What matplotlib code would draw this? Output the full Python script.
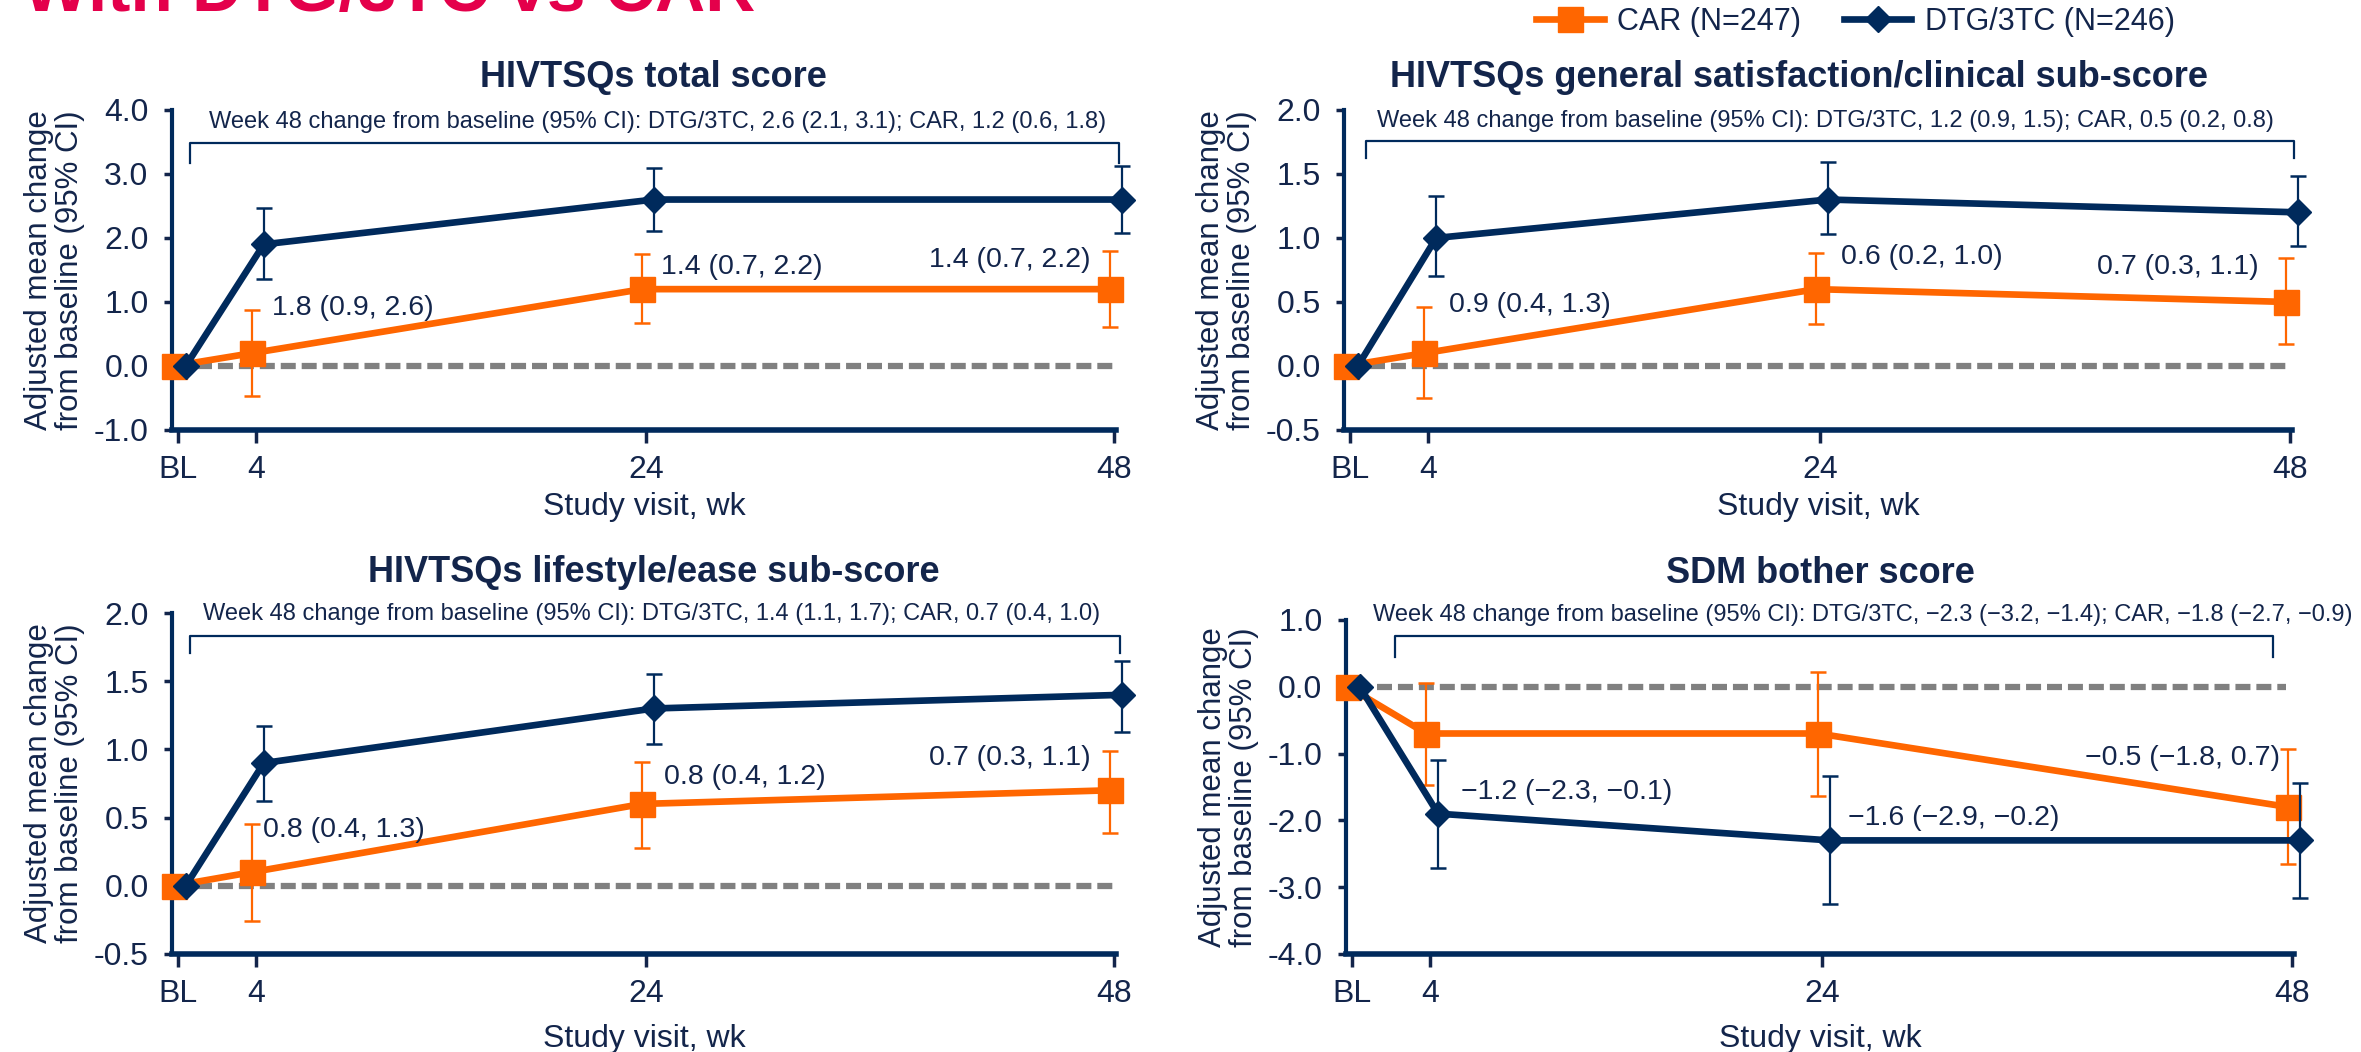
"""Four-panel PRO change-from-baseline figure: DTG/3TC vs CAR."""
import matplotlib
matplotlib.use("Agg")
import matplotlib.pyplot as plt
from matplotlib.lines import Line2D

plt.rcParams["font.family"] = ["Liberation Sans", "DejaVu Sans"]

NAVY = "#002a5c"
TEXT = "#13254b"
ORANGE = "#ff6600"
GREY = "#808080"
RED = "#e4004b"

WEEKS = [0, 4, 24, 48]
WEEK_LABELS = ["BL", "4", "24", "48"]

# HIVTSQs total score
TOT_DTG = [0.0, 1.9, 2.6, 2.6]
TOT_DTG_LO = [0.0, 1.36, 2.11, 2.08]
TOT_DTG_HI = [0.0, 2.47, 3.09, 3.12]
TOT_CAR = [0.0, 0.2, 1.2, 1.2]
TOT_CAR_LO = [0.0, -0.47, 0.67, 0.61]
TOT_CAR_HI = [0.0, 0.87, 1.75, 1.80]
TOT_DIFF = ["1.8 (0.9, 2.6)", "1.4 (0.7, 2.2)", "1.4 (0.7, 2.2)"]
TOT_W48 = ("Week 48 change from baseline (95% CI): DTG/3TC, 2.6 (2.1, 3.1); "
           "CAR, 1.2 (0.6, 1.8)")

# HIVTSQs general satisfaction/clinical sub-score
GEN_DTG = [0.0, 1.0, 1.3, 1.2]
GEN_DTG_LO = [0.0, 0.70, 1.03, 0.94]
GEN_DTG_HI = [0.0, 1.33, 1.59, 1.48]
GEN_CAR = [0.0, 0.1, 0.6, 0.5]
GEN_CAR_LO = [0.0, -0.25, 0.33, 0.17]
GEN_CAR_HI = [0.0, 0.46, 0.88, 0.84]
GEN_DIFF = ["0.9 (0.4, 1.3)", "0.6 (0.2, 1.0)", "0.7 (0.3, 1.1)"]
GEN_W48 = ("Week 48 change from baseline (95% CI): DTG/3TC, 1.2 (0.9, 1.5); "
           "CAR, 0.5 (0.2, 0.8)")

# HIVTSQs lifestyle/ease sub-score
LIF_DTG = [0.0, 0.9, 1.3, 1.4]
LIF_DTG_LO = [0.0, 0.62, 1.04, 1.13]
LIF_DTG_HI = [0.0, 1.17, 1.55, 1.65]
LIF_CAR = [0.0, 0.1, 0.6, 0.7]
LIF_CAR_LO = [0.0, -0.26, 0.28, 0.39]
LIF_CAR_HI = [0.0, 0.45, 0.91, 0.99]
LIF_DIFF = ["0.8 (0.4, 1.3)", "0.8 (0.4, 1.2)", "0.7 (0.3, 1.1)"]
LIF_W48 = ("Week 48 change from baseline (95% CI): DTG/3TC, 1.4 (1.1, 1.7); "
           "CAR, 0.7 (0.4, 1.0)")

# SDM bother score
SDM_DTG = [0.0, -1.9, -2.3, -2.3]
SDM_DTG_LO = [0.0, -2.71, -3.25, -3.16]
SDM_DTG_HI = [0.0, -1.10, -1.34, -1.44]
SDM_CAR = [0.0, -0.7, -0.7, -1.8]
SDM_CAR_LO = [0.0, -1.47, -1.63, -2.65]
SDM_CAR_HI = [0.0, 0.06, 0.22, -0.93]
SDM_DIFF = ["\u22121.2 (\u22122.3, \u22120.1)", "\u22121.6 (\u22122.9, \u22120.2)",
            "\u22120.5 (\u22121.8, 0.7)"]
SDM_W48 = ("Week 48 change from baseline (95% CI): DTG/3TC, \u22122.3 (\u22123.2, \u22121.4); "
           "CAR, \u22121.8 (\u22122.7, \u22120.9)")

PANELS = [
    dict(title="HIVTSQs total score", rect=[0.0729, 0.5913, 0.3998, 0.3042],
         ylim=(-1.0, 4.0), yticks=[-1.0, 0.0, 1.0, 2.0, 3.0, 4.0],
         dtg=(TOT_DTG, TOT_DTG_LO, TOT_DTG_HI), car=(TOT_CAR, TOT_CAR_LO, TOT_CAR_HI),
         diff=TOT_DIFF, w48=TOT_W48, title_xy=(0.51, 1.10), xpad=5,
         diff_xy=[(4.83, 0.9, "left"), (24.78, 1.55, "left"), (46.78, 1.66, "right")],
         bracket=(0.62, 48.26, 3.17, 3.48), w48_xy=(24.6, 3.81), zero=(1.0, 48.0)),
    dict(title="HIVTSQs general satisfaction/clinical sub-score",
         rect=[0.5693, 0.5913, 0.4015, 0.3042],
         ylim=(-0.5, 2.0), yticks=[-0.5, 0.0, 0.5, 1.0, 1.5, 2.0],
         dtg=(GEN_DTG, GEN_DTG_LO, GEN_DTG_HI), car=(GEN_CAR, GEN_CAR_LO, GEN_CAR_HI),
         diff=GEN_DIFF, w48=GEN_W48, title_xy=(0.48, 1.10), xpad=5,
         diff_xy=[(5.06, 0.48, "left"), (25.07, 0.85, "left"), (46.4, 0.77, "right")],
         bracket=(0.82, 48.2, 1.625, 1.76), w48_xy=(24.3, 1.91), zero=(1.0, 48.0)),
    dict(title="HIVTSQs lifestyle/ease sub-score", rect=[0.0729, 0.0932, 0.3998, 0.3241],
         ylim=(-0.5, 2.0), yticks=[-0.5, 0.0, 0.5, 1.0, 1.5, 2.0],
         dtg=(LIF_DTG, LIF_DTG_LO, LIF_DTG_HI), car=(LIF_CAR, LIF_CAR_LO, LIF_CAR_HI),
         diff=LIF_DIFF, w48=LIF_W48, title_xy=(0.51, 1.12), xpad=11,
         diff_xy=[(4.37, 0.41, "left"), (24.93, 0.80, "left"), (46.78, 0.94, "right")],
         bracket=(0.62, 48.3, 1.71, 1.83), w48_xy=(24.3, 1.99), zero=(1.0, 48.0)),
    dict(title="SDM bother score", rect=[0.5701, 0.0932, 0.4015, 0.3175],
         ylim=(-4.0, 1.0), yticks=[-4.0, -3.0, -2.0, -1.0, 0.0, 1.0],
         dtg=(SDM_DTG, SDM_DTG_LO, SDM_DTG_HI), car=(SDM_CAR, SDM_CAR_LO, SDM_CAR_HI),
         diff=SDM_DIFF, w48=SDM_W48, title_xy=(0.50, 1.14), xpad=11,
         diff_xy=[(5.57, -1.57, "left"), (25.35, -1.96, "left"), (47.4, -1.07, "right")],
         bracket=(2.18, 47.05, 0.45, 0.76), w48_xy=(26.1, 1.07), zero=(1.3, 47.7)),
]

CAR_SHIFT = -0.2   # series are dodged around each visit
DTG_SHIFT = 0.4


def draw_series(ax, vals, shift, color, marker, ms, z):
    mean, lo, hi = vals
    x = [w + shift for w in WEEKS]
    err = [[m - l for m, l in zip(mean[1:], lo[1:])],
           [h - m for m, h in zip(mean[1:], hi[1:])]]
    ax.errorbar(x[1:], mean[1:], yerr=err, fmt="none", ecolor=color, elinewidth=1.6,
                capsize=5.5, capthick=1.8, zorder=z, clip_on=False)
    ax.plot(x, mean, "-", marker=marker, color=color, lw=4.8, ms=ms,
            zorder=z + 1, clip_on=False)


fig = plt.figure(figsize=(23.61, 10.52), dpi=100)

for p in PANELS:
    ax = fig.add_axes(p["rect"])
    ax.set_xlim(-0.3, 48.1)
    ax.set_ylim(*p["ylim"])
    ax.set_yticks(p["yticks"])
    ax.set_yticklabels([f"{v:.1f}" for v in p["yticks"]])
    ax.set_xticks(WEEKS)
    ax.set_xticklabels(WEEK_LABELS)
    for s in ("top", "right"):
        ax.spines[s].set_visible(False)
    ax.spines["left"].set_linewidth(3)
    ax.spines["bottom"].set_linewidth(4)
    for s in ("left", "bottom"):
        ax.spines[s].set_color(NAVY)
    ax.tick_params(axis="y", colors=TEXT, labelsize=23, length=6, width=2.5, pad=11)
    ax.tick_params(axis="x", colors=TEXT, labelsize=23, length=9, width=2.5, pad=9)

    ax.hlines(0, p["zero"][0], p["zero"][1], colors=GREY, lw=4.5,
              linestyles=(0, (2.4, 0.95)), zorder=1)
    draw_series(ax, p["car"], CAR_SHIFT, ORANGE, "s", 18, 2)
    draw_series(ax, p["dtg"], DTG_SHIFT, NAVY, "D", 13, 4)

    for txt, (tx, ty, ha) in zip(p["diff"], p["diff_xy"]):
        ax.text(tx, ty, txt, ha=ha, va="center", fontsize=20.5, color=TEXT, zorder=6)

    x0, x1, yb, yt = p["bracket"]
    ax.plot([x0, x0, x1, x1], [yb, yt, yt, yb], color=NAVY, lw=1.6, clip_on=False)
    ax.text(p["w48_xy"][0], p["w48_xy"][1], p["w48"], ha="center", va="center",
            fontsize=17, color=TEXT)

    ax.text(p["title_xy"][0], p["title_xy"][1], p["title"], transform=ax.transAxes,
            ha="center", va="center", fontsize=26, fontweight="bold", color=TEXT)
    ax.set_xlabel("Study visit, wk", fontsize=23, color=TEXT, labelpad=p["xpad"])
    ax.set_ylabel("Adjusted mean change\nfrom baseline (95% CI)", fontsize=22.5,
                  color=TEXT, linespacing=1.05)
    ax.yaxis.set_label_coords(-0.092, 0.5)

# headline is cropped by the top edge in the source slide
fig.text(0.0097, 0.9895, "With DTG/3TC vs CAR", ha="left", va="baseline",
         fontsize=50, fontweight="bold", color=RED)

handles = [Line2D([], [], color=ORANGE, lw=4.8, marker="s", ms=18),
           Line2D([], [], color=NAVY, lw=4.8, marker="D", ms=13)]
fig.legend(handles, ["CAR (N=247)", "DTG/3TC (N=246)"], loc="center",
           bbox_to_anchor=(0.786, 0.979), ncol=2, frameon=False, fontsize=22,
           handlelength=2.2, handletextpad=0.45, columnspacing=1.4,
           labelcolor=TEXT)

fig.savefig("out.png", dpi=100)
